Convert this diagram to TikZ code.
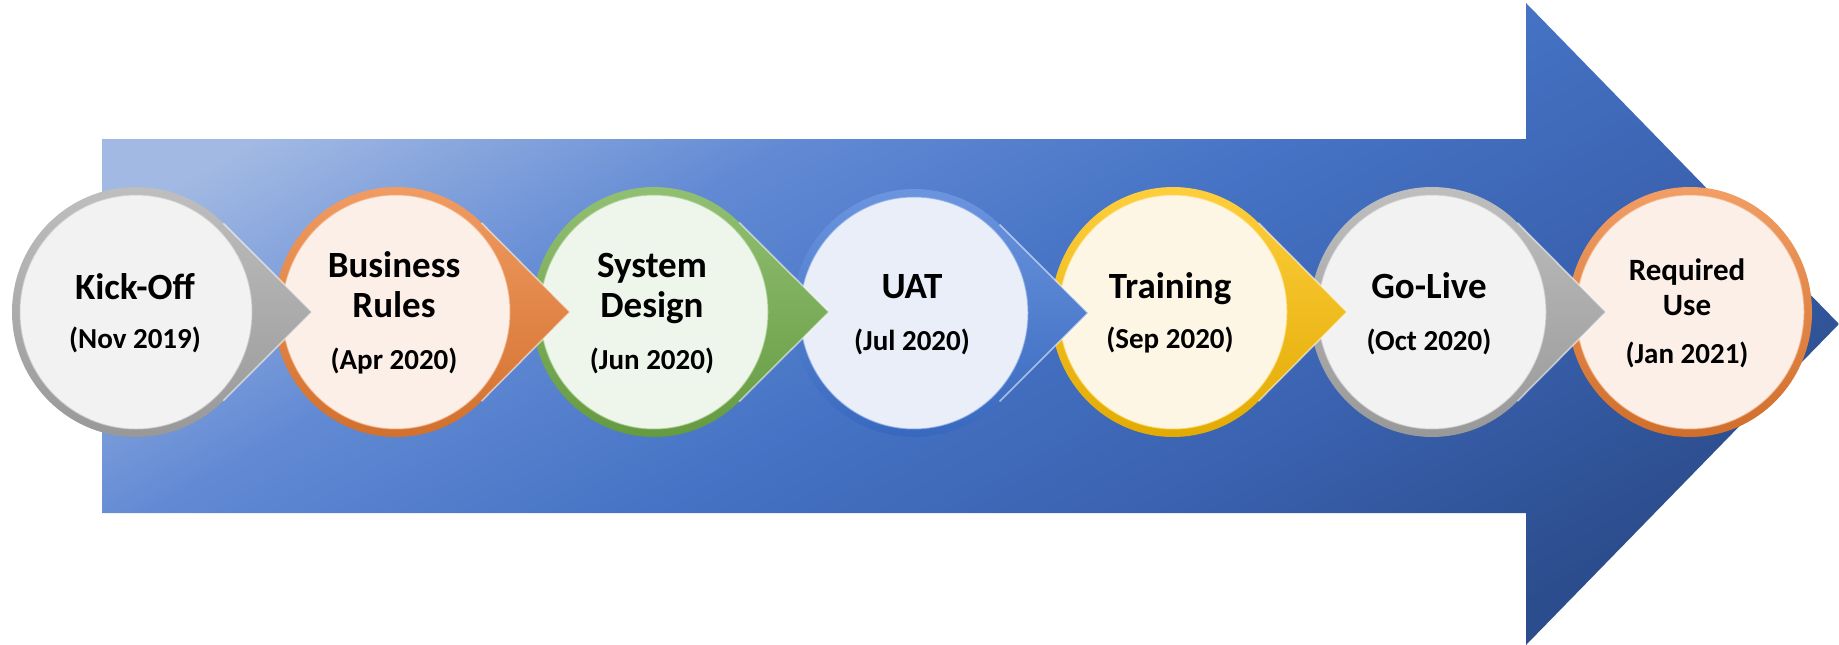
\documentclass[tikz,border=0pt]{standalone}
\usepackage{fontspec}
\setmainfont{Carlito}
\definecolor{cgrey}{HTML}{ABABAB}
\definecolor{igrey}{HTML}{F2F2F2}
\definecolor{corange}{HTML}{ED7D31}
\definecolor{iorange}{HTML}{FBEFE8}
\definecolor{cgreen}{HTML}{70AD47}
\definecolor{igreen}{HTML}{EEF5EA}
\definecolor{cblue}{HTML}{3D74D6}
\definecolor{iblue}{HTML}{E9EEF8}
\definecolor{cyellow}{HTML}{FFC000}
\definecolor{iyellow}{HTML}{FDF6E5}
\pgfdeclareverticalshading{arrsh}{100bp}{%
  color(0bp)=(rgb,255:red,44;green,77;blue,141);
  color(25bp)=(rgb,255:red,44;green,77;blue,141);
  color(38bp)=(rgb,255:red,58;green,98;blue,176);
  color(50bp)=(rgb,255:red,70;green,115;blue,197);
  color(62bp)=(rgb,255:red,98;green,138;blue,212);
  color(75bp)=(rgb,255:red,162;green,185;blue,227);
  color(100bp)=(rgb,255:red,162;green,185;blue,227)}
\tikzset{
  ttl/.style={font=\fontsize{37}{42}\selectfont\bfseries, inner sep=0pt, anchor=base, text=black},
  ttls/.style={font=\fontsize{31}{36}\selectfont\bfseries, inner sep=0pt, anchor=base, text=black},
  dte/.style={font=\fontsize{29}{34}\selectfont\bfseries, inner sep=0pt, anchor=base, text=black},
}
% #1 cx, #2 cy, #3 rx, #4 ry, #5 tip x, #6 ring colour, #7 inner colour
\newcommand{\tdrop}[7]{%
  \pgfmathsetmacro\tdT{(#5-#1)/#3}%
  \pgfmathsetmacro\tdA{acos(1/\tdT)}%
  \begin{scope}[shift={(#1,#2)}]
    \shade[top color=#6!75!white, bottom color=#6!88!black, xscale=#3, yscale=#4]
      (\tdT,0) -- (\tdA:1) arc[start angle=\tdA, end angle=360-\tdA, radius=1] -- cycle;
    \draw[white, opacity=.55, line width=1.6pt, xscale=#3, yscale=#4]
      (\tdA:1) -- (\tdT,0) -- (-\tdA:1);
    \fill[#7] (0,0) ellipse[x radius=#3-8, y radius=#4-8];
    \draw[#6!60!white, opacity=.7, line width=1pt] (0,0) ellipse[x radius=#3-8, y radius=#4-8];
  \end{scope}}
\newcommand{\rcirc}[5]{%
  \begin{scope}[shift={(#1,#2)}]
    \shade[top color=#5!75!white, bottom color=#5!88!black] (0,0) ellipse[x radius=#3, y radius=#4];
    \fill[iorange] (0,0) ellipse[x radius=#3-8, y radius=#4-8];
    \draw[#5!60!white, opacity=.7, line width=1pt] (0,0) ellipse[x radius=#3-8, y radius=#4-8];
  \end{scope}}
\begin{document}
\begin{tikzpicture}[x=1pt, y=-1pt]
\useasboundingbox (0,0) rectangle (1839,645);
% big arrow
\shade[shading=arrsh, shading angle=30]
  (102,139) -- (1526,139) -- (1526,3) -- (1839,324) -- (1526,645) -- (1526,513) -- (102,513) -- cycle;
% milestones, drawn last-to-first so earlier tips overlap later circles
\rcirc{1690}{312}{122}{125}{corange}
\tdrop{1432}{312}{122}{125}{1606}{cgrey}{igrey}
\tdrop{1173}{312}{122}{125}{1347}{cyellow}{iyellow}
\tdrop{914}{313}{122}{124}{1088}{cblue}{iblue}
\tdrop{654}{312}{122}{125}{829}{cgreen}{igreen}
\tdrop{396}{312}{122}{125}{570}{corange}{iorange}
\tdrop{136}{312}{124}{125}{312}{cgrey}{igrey}
% texts
\node[ttl] (t1) at (135,299) {Kick-Off};
\node[dte] (d1) at (135,348) {(Nov 2019)};
\node[ttl] (t2a) at (394,277) {Business};
\node[ttl] (t2b) at (394,317) {Rules};
\node[dte] (d2) at (394,369) {(Apr 2020)};
\node[ttl] (t3a) at (652,277) {System};
\node[ttl] (t3b) at (652,317) {Design};
\node[dte] (d3) at (652,369) {(Jun 2020)};
\node[ttl] (t4) at (912,298) {UAT};
\node[dte] (d4) at (912,350) {(Jul 2020)};
\node[ttl] (t5) at (1170,298) {Training};
\node[dte] (d5) at (1170,348) {(Sep 2020)};
\node[ttl] (t6) at (1429,298) {Go-Live};
\node[dte] (d6) at (1429,350) {(Oct 2020)};
\node[ttls] (t7a) at (1687,280) {Required};
\node[ttls] (t7b) at (1687,315) {Use};
\node[dte] (d7) at (1687,363) {(Jan 2021)};
\end{tikzpicture}
\end{document}
